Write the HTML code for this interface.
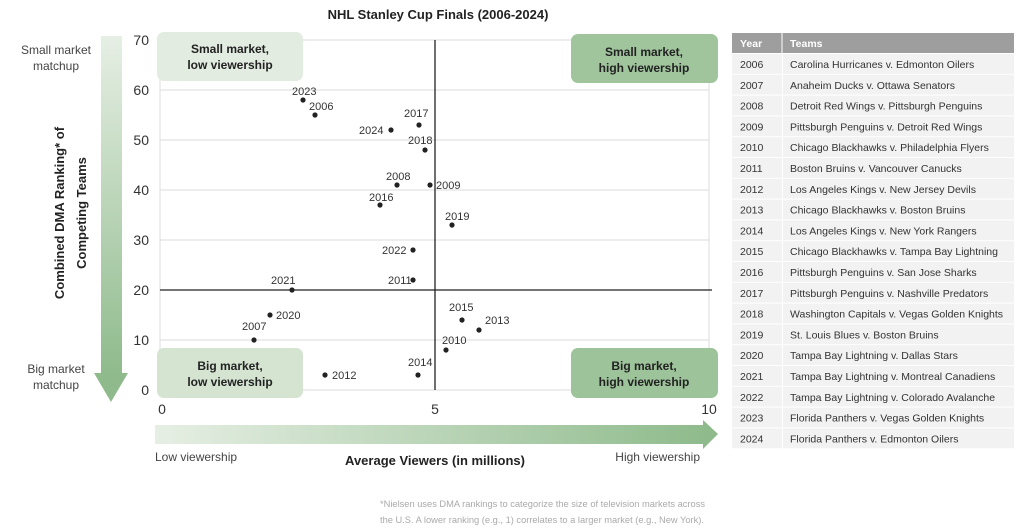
<!DOCTYPE html>
<html><head><meta charset="utf-8"><style>
body{margin:0;background:#fff;}
svg{display:block;font-family:"Liberation Sans",sans-serif;}
</style></head><body>
<svg width="1024" height="529" viewBox="0 0 1024 529" xmlns="http://www.w3.org/2000/svg">
<defs>
<linearGradient id="gy" x1="0" y1="0" x2="0" y2="1"><stop offset="0" stop-color="#e6efe4"/><stop offset="1" stop-color="#8fbb8c"/></linearGradient>
<linearGradient id="gx" x1="0" y1="0" x2="1" y2="0"><stop offset="0" stop-color="#e6efe4"/><stop offset="1" stop-color="#8fbb8c"/></linearGradient>
</defs>
<text x="438" y="19" text-anchor="middle" font-size="13" font-weight="bold" fill="#222">NHL Stanley Cup Finals (2006-2024)</text>
<g stroke="#e2e2e2" stroke-width="1.2">
<line x1="160" y1="40" x2="709" y2="40"/><line x1="160" y1="90" x2="709" y2="90"/><line x1="160" y1="140" x2="709" y2="140"/><line x1="160" y1="190" x2="709" y2="190"/><line x1="160" y1="240" x2="709" y2="240"/><line x1="160" y1="340" x2="709" y2="340"/><line x1="160" y1="390" x2="709" y2="390"/>
<line x1="709" y1="40" x2="709" y2="390"/><line x1="160" y1="40" x2="160" y2="390"/>
</g>
<g stroke="#222" stroke-width="1.3"><line x1="435" y1="40" x2="435" y2="390"/><line x1="160" y1="290" x2="712" y2="290"/></g>
<rect x="157" y="32" width="146" height="49" rx="7" fill="#e2ece0"/>
<rect x="571" y="34" width="147" height="49" rx="7" fill="#a0c59d"/>
<rect x="157" y="348" width="146" height="50" rx="7" fill="#d4e4d1"/>
<rect x="571" y="348" width="147" height="50" rx="7" fill="#9dc39a"/>
<g font-size="12" font-weight="bold" fill="#222" text-anchor="middle">
<text x="230" y="53">Small market,</text><text x="230" y="69">low viewership</text>
<text x="644" y="56">Small market,</text><text x="644" y="72">high viewership</text>
<text x="230" y="370">Big market,</text><text x="230" y="386">low viewership</text>
<text x="644" y="370">Big market,</text><text x="644" y="386">high viewership</text>
</g>
<g font-size="14" fill="#333" text-anchor="end">
<text x="149" y="45">70</text><text x="149" y="95">60</text><text x="149" y="145">50</text><text x="149" y="195">40</text>
<text x="149" y="245">30</text><text x="149" y="295">20</text><text x="149" y="345">10</text><text x="149" y="395">0</text>
</g>
<g font-size="14" fill="#333" text-anchor="middle"><text x="162" y="414">0</text><text x="435" y="414">5</text><text x="709" y="414">10</text></g>
<rect x="101" y="36" width="21" height="338" fill="url(#gy)"/>
<polygon points="94,373 128,373 111,402" fill="#8fbb8c"/>
<rect x="155" y="425" width="550" height="19" fill="url(#gx)"/>
<polygon points="703,420 703,449 718,434" fill="#8fbb8c"/>
<g font-size="12" fill="#444" text-anchor="middle">
<text x="56" y="54">Small market</text><text x="56" y="70">matchup</text>
<text x="56" y="373">Big market</text><text x="56" y="389">matchup</text>
</g>
<text transform="translate(64,213) rotate(-90)" font-size="13" font-weight="bold" fill="#222" text-anchor="middle">Combined DMA Ranking* of</text>
<text transform="translate(86,213) rotate(-90)" font-size="13" font-weight="bold" fill="#222" text-anchor="middle">Competing Teams</text>
<text x="155" y="461" font-size="12" fill="#444">Low viewership</text>
<text x="700" y="461" font-size="12" fill="#444" text-anchor="end">High viewership</text>
<text x="435" y="465" font-size="13" font-weight="bold" fill="#222" text-anchor="middle">Average Viewers (in millions)</text>
<g font-size="9.3" fill="#aaa"><text x="380" y="507">*Nielsen uses DMA rankings to categorize the size of television markets across</text><text x="380" y="523">the U.S. A lower ranking (e.g., 1) correlates to a larger market (e.g., New York).</text></g>
<g fill="#222">
<circle cx="303" cy="100" r="2.6"/><circle cx="315" cy="115" r="2.6"/><circle cx="419" cy="125" r="2.6"/><circle cx="391" cy="130" r="2.6"/>
<circle cx="425" cy="150" r="2.6"/><circle cx="397" cy="185" r="2.6"/><circle cx="430" cy="185" r="2.6"/><circle cx="380" cy="205" r="2.6"/>
<circle cx="452" cy="225" r="2.6"/><circle cx="413" cy="250" r="2.6"/><circle cx="413" cy="280" r="2.6"/><circle cx="292" cy="290" r="2.6"/>
<circle cx="270" cy="315" r="2.6"/><circle cx="254" cy="340" r="2.6"/><circle cx="462" cy="320" r="2.6"/><circle cx="479" cy="330" r="2.6"/>
<circle cx="446" cy="350" r="2.6"/><circle cx="418" cy="375" r="2.6"/><circle cx="325" cy="375" r="2.6"/>
</g>
<g font-size="11" fill="#333">
<text x="292" y="95">2023</text><text x="309" y="110">2006</text><text x="404" y="117">2017</text><text x="359" y="134">2024</text>
<text x="408" y="144">2018</text><text x="386" y="180">2008</text><text x="436" y="189">2009</text><text x="369" y="201">2016</text>
<text x="445" y="220">2019</text><text x="382" y="254">2022</text><text x="388" y="284">2011</text><text x="271" y="284">2021</text>
<text x="276" y="319">2020</text><text x="242" y="330">2007</text><text x="449" y="311">2015</text><text x="485" y="324">2013</text>
<text x="442" y="344">2010</text><text x="408" y="366">2014</text><text x="332" y="379">2012</text>
</g>
<rect x="732" y="33" width="282" height="20" fill="#9e9e9e"/>
<line x1="782" y1="33" x2="782" y2="53" stroke="#fff"/>
<text x="740" y="47" font-size="10.5" font-weight="bold" fill="#fff">Year</text>
<text x="790" y="47" font-size="10.5" font-weight="bold" fill="#fff">Teams</text>
<g id="rows" font-size="10.5" fill="#333"></g>
</svg>
<script>
var d=[["2006","Carolina Hurricanes v. Edmonton Oilers"],["2007","Anaheim Ducks v. Ottawa Senators"],["2008","Detroit Red Wings v. Pittsburgh Penguins"],["2009","Pittsburgh Penguins v. Detroit Red Wings"],["2010","Chicago Blackhawks v. Philadelphia Flyers"],["2011","Boston Bruins v. Vancouver Canucks"],["2012","Los Angeles Kings v. New Jersey Devils"],["2013","Chicago Blackhawks v. Boston Bruins"],["2014","Los Angeles Kings v. New York Rangers"],["2015","Chicago Blackhawks v. Tampa Bay Lightning"],["2016","Pittsburgh Penguins v. San Jose Sharks"],["2017","Pittsburgh Penguins v. Nashville Predators"],["2018","Washington Capitals v. Vegas Golden Knights"],["2019","St. Louis Blues v. Boston Bruins"],["2020","Tampa Bay Lightning v. Dallas Stars"],["2021","Tampa Bay Lightning v. Montreal Canadiens"],["2022","Tampa Bay Lightning v. Colorado Avalanche"],["2023","Florida Panthers v. Vegas Golden Knights"],["2024","Florida Panthers v. Edmonton Oilers"]];
var g=document.getElementById("rows"),h="";
d.forEach(function(r,i){var y=54+i*20.8;
h+='<rect x="732" y="'+y+'" width="50" height="19.8" fill="#f2f2f2"/><rect x="783" y="'+y+'" width="231" height="19.8" fill="#f2f2f2"/>';
h+='<text x="740" y="'+(y+14)+'">'+r[0]+'</text><text x="790" y="'+(y+14)+'">'+r[1]+'</text>';});
g.innerHTML=h;
</script>
</body></html>
